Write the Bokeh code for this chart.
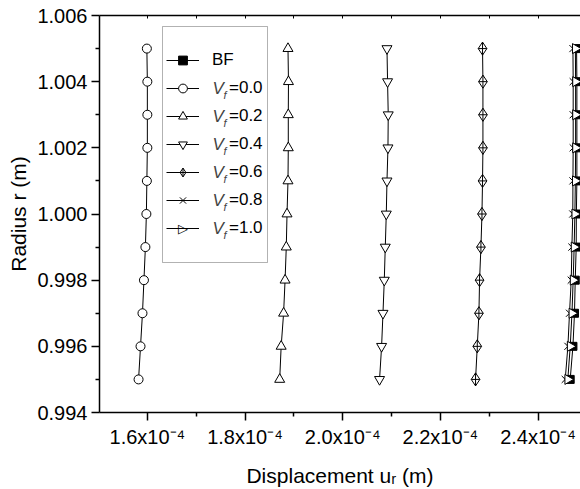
from math import pi
from bokeh.plotting import figure
from bokeh.models import (Range1d, FixedTicker, CustomJSTickFormatter, PrintfTickFormatter,
                          LinearAxis, Legend, LegendItem, Label, BoxAnnotation)
from bokeh.embed import file_html
from bokeh.resources import INLINE

# ---------------- data ----------------
radius = [0.995, 0.996, 0.997, 0.998, 0.999, 1.000, 1.001, 1.002, 1.003, 1.004, 1.005]
# radial displacement u_r in units of 1e-4 m
u_bf = [2.4659, 2.4715, 2.4747, 2.4762, 2.4782, 2.4785, 2.4796, 2.4796, 2.4796, 2.4796, 2.4790]
u_v00 = [1.582, 1.586, 1.590, 1.593, 1.596, 1.598, 1.599, 1.600, 1.600, 1.600, 1.599]
u_v02 = [1.871, 1.874, 1.879, 1.882, 1.8845, 1.886, 1.888, 1.8886, 1.8886, 1.889, 1.888]
u_v04 = [2.0755, 2.0797, 2.0825, 2.0852, 2.0872, 2.0893, 2.0907, 2.0927, 2.0933, 2.0919, 2.0907]
u_v06 = [2.2721, 2.2756, 2.2790, 2.2803, 2.2831, 2.2852, 2.2864, 2.2872, 2.2872, 2.2872, 2.2864]
u_v08 = [2.4557, 2.4612, 2.4645, 2.4680, 2.4694, 2.4712, 2.4715, 2.4720, 2.4720, 2.4720, 2.4715]
u_v10 = [2.4610, 2.4660, 2.4695, 2.4720, 2.4740, 2.4755, 2.4765, 2.4770, 2.4770, 2.4770, 2.4765]

series_values = [u_bf, u_v00, u_v02, u_v04, u_v06, u_v08, u_v10]
vf_labels = ["0.0", "0.2", "0.4", "0.6", "0.8", "1.0"]

x_ticks = [1.6, 1.8, 2.0, 2.2, 2.4]
x_minor = [1.5, 1.7, 1.9, 2.1, 2.3, 2.5]
y_ticks = [0.994, 0.996, 0.998, 1.000, 1.002, 1.004, 1.006]
y_minor = [0.995, 0.997, 0.999, 1.001, 1.003, 1.005]

# ---------------- styles ----------------
FONT = "Liberation Sans"
markers = ["square", "circle", "triangle", "inverted_triangle", "diamond_cross", "x", "triangle"]
fills = ["black", "white", "white", "white", "white", "white", "white"]
sizes = [8, 9, 10, 10, 13, 10, 10]
angles = [0, 0, 0, 0, 0, 0, -pi / 2]

p = figure(width=580, height=489, output_backend="svg", toolbar_location=None,
           x_range=Range1d(1.502, 2.487), y_range=Range1d(0.994, 1.006))
p.min_border_left = 99
p.min_border_right = 0
p.min_border_top = 15
p.min_border_bottom = 76
p.outline_line_color = None
p.xgrid.visible = False
p.ygrid.visible = False
p.background_fill_color = "white"
p.border_fill_color = "white"

xt = FixedTicker(ticks=x_ticks, minor_ticks=x_minor)
yt = FixedTicker(ticks=y_ticks, minor_ticks=y_minor)

xa = p.xaxis[0]
xa.ticker = xt
xa.formatter = CustomJSTickFormatter(code="return tick.toFixed(1) + 'x10\u207b\u2074'")
xa.axis_label = "Displacement u\u1d63 (m)"
ya = p.yaxis[0]
ya.ticker = yt
ya.formatter = PrintfTickFormatter(format="%.3f")
ya.axis_label = "Radius r (m)"

for ax in (xa, ya):
    ax.axis_line_width = 1.5
    ax.major_tick_line_width = 1.5
    ax.minor_tick_line_width = 1.5
    ax.major_tick_out = 8
    ax.major_tick_in = 0
    ax.minor_tick_out = 4
    ax.minor_tick_in = 0
    ax.major_label_text_font = FONT
    ax.major_label_text_font_size = "20px"
    ax.major_label_text_color = "black"
    ax.major_label_standoff = 4
    ax.axis_label_text_font = FONT
    ax.axis_label_text_font_size = "21px"
    ax.axis_label_text_font_style = "normal"
    ax.axis_label_text_color = "black"
xa.major_label_standoff = 5
xa.axis_label_standoff = 13
ya.axis_label_standoff = 4

# top frame line with small inward ticks (no labels)
top = LinearAxis(ticker=FixedTicker(ticks=[], minor_ticks=x_ticks + x_minor),
                 minor_tick_in=3, minor_tick_out=0, major_tick_in=0, major_tick_out=0,
                 axis_line_width=1.5, minor_tick_line_width=1.0)
p.add_layout(top, "above")

line_r, scat_r = [], []
for vals, mk, fc, sz, ang in zip(series_values, markers, fills, sizes, angles):
    lr = p.line(vals, radius, line_color="black", line_width=1)
    sr = p.scatter(vals, radius, marker=mk, size=sz, fill_color=fc, line_color="black",
                   line_width=1, angle=ang)
    line_r.append(lr)
    scat_r.append(sr)

# legend frame (screen units relative to the plot frame)
box = BoxAnnotation(left=63, right=168, top=386, bottom=150,
                    left_units="screen", right_units="screen",
                    top_units="screen", bottom_units="screen",
                    fill_color="white", fill_alpha=1.0, line_color="black", line_width=1)
p.add_layout(box)

common = dict(orientation="vertical", padding=0, spacing=6, margin=0, glyph_width=33,
              glyph_height=22, label_height=22, label_width=0, label_text_font=FONT,
              label_text_font_size="17px", label_text_color="black",
              background_fill_alpha=0, border_line_color=None)

vf_items = []
for i, t in enumerate(vf_labels):
    rends = [line_r[i + 1]] if angles[i + 1] != 0 else [line_r[i + 1], scat_r[i + 1]]
    vf_items.append(LegendItem(label="=" + t, renderers=rends))

legend_bf = Legend(items=[LegendItem(label="BF", renderers=[line_r[0], scat_r[0]])],
                   location=(67, 341), label_standoff=13, **common)
legend_vf = Legend(items=vf_items, location=(67, 173), label_standoff=30, **common)
p.add_layout(legend_bf)
p.add_layout(legend_vf)

# right-pointing triangle sample for the rotated-marker series (legends ignore angle)
p.add_layout(Label(x=83.5, y=184, x_units="screen", y_units="screen", text="\u25b7\ufe0e",
                   text_font="DejaVu Sans", text_font_size="13px", text_align="center",
                   text_baseline="middle", text_color="black",
                   background_fill_color="white", background_fill_alpha=1.0))

# italic V with subscript f in front of each "=..." label
row_y = [324, 296, 268, 240, 212, 184]
for y in row_y:
    p.add_layout(Label(x=113, y=y, x_units="screen", y_units="screen", text="V",
                       text_font=FONT, text_font_size="17px", text_font_style="italic",
                       text_baseline="middle"))
    p.add_layout(Label(x=124, y=y - 6, x_units="screen", y_units="screen", text="f",
                       text_font=FONT, text_font_size="11px", text_font_style="italic",
                       text_baseline="middle"))

open("out.html", "w").write(file_html(p, INLINE))
